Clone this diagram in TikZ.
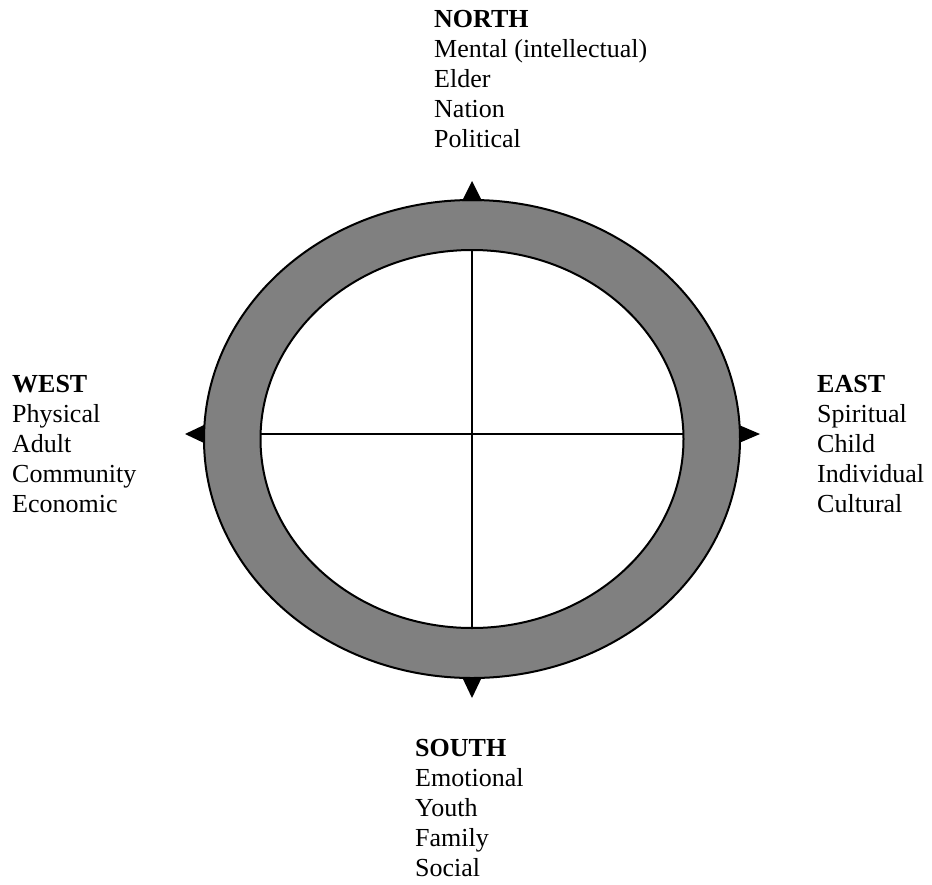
\documentclass[tikz,border=0pt]{standalone}
\usepackage{fontspec}
\setmainfont{Liberation Serif}
\usetikzlibrary{positioning}
\definecolor{ringgray}{RGB}{128,128,128}
\begin{document}
\begin{tikzpicture}[x=1pt, y=-1pt,
    dirtext/.style={anchor=north west, inner sep=0pt, align=left, font=\fontsize{26}{30}\selectfont},
    ring/.style={line width=2pt},
    cross/.style={line width=1.4pt},
    pointer/.style={fill=black}]
    \useasboundingbox (0,0) rectangle (932,884);
    %ring
    \draw[ring, fill=ringgray] (472,439) ellipse [x radius=268, y radius=239];
    \draw[ring, fill=white] (472,439) ellipse [x radius=211.5, y radius=189];

    %cross
    \coordinate (n) at (472,250);
    \coordinate (s) at (472,628);
    \coordinate (w) at (261,434);
    \coordinate (e) at (684,434);
    \draw[cross] (n) -- (s);
    \draw[cross] (w) -- (e);

    %pointers
    \fill[pointer] (472,181) -- (462,201) -- (482,201) -- cycle;
    \fill[pointer] (472,698) -- (462,677) -- (482,677) -- cycle;
    \fill[pointer] (185,434) -- (204,425) -- (204,443) -- cycle;
    \fill[pointer] (760,434) -- (739,425) -- (739,443) -- cycle;

    %nodes
    \node[dirtext] (north) at (434,10) {\textbf{NORTH}\\Mental (intellectual)\\Elder\\Nation\\Political};
    \node[dirtext] (west) at (12,375) {\textbf{WEST}\\Physical\\Adult\\Community\\Economic};
    \node[dirtext] (east) at (817,375) {\textbf{EAST}\\Spiritual\\Child\\Individual\\Cultural};
    \node[dirtext] (south) at (415,739) {\textbf{SOUTH}\\Emotional\\Youth\\Family\\Social};
\end{tikzpicture}
\end{document}
